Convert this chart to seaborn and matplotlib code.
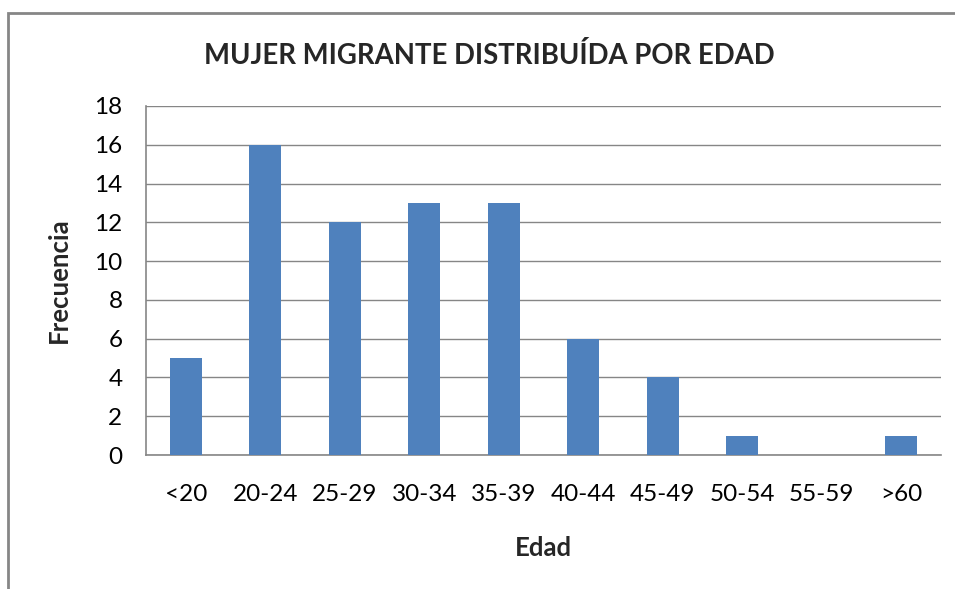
import matplotlib
matplotlib.use('Agg')
import pandas as pd
import seaborn as sns
from matplotlib import pyplot as plt
from matplotlib.patches import Rectangle

# Datos
edades = ['<20', '20-24', '25-29', '30-34', '35-39', '40-44', '45-49', '50-54', '55-59', '>60']
frecuencia = [5, 16, 12, 13, 13, 6, 4, 1, 0, 1]

df = pd.DataFrame({'Edad': edades, 'Frecuencia': frecuencia})

sns.set_style('white')
plt.rcParams['font.family'] = ['Lato', 'DejaVu Sans']

grid_color = '#868686'

fig = plt.figure(figsize=(9.55, 5.89), dpi=100)
ax = fig.add_axes([146 / 955, 1 - 455 / 589, 795 / 955, 349 / 589])

sns.barplot(data=df, x='Edad', y='Frecuencia', order=edades, color='#4F81BD',
            width=0.4, saturation=1, linewidth=0, ax=ax, zorder=3)

ax.set_ylim(0, 18)
ax.set_yticks(range(0, 19, 2))
ax.set_xlim(-0.5, len(edades) - 0.5)
ax.yaxis.grid(True, color=grid_color, linewidth=1)
ax.set_axisbelow(True)
for side in ['top', 'right']:
    ax.spines[side].set_visible(False)
for side in ['left', 'bottom']:
    ax.spines[side].set_color(grid_color)
    ax.spines[side].set_linewidth(1.2)
ax.tick_params(axis='both', length=0, labelsize=17.5, colors='#000000')
ax.tick_params(axis='x', pad=21)
ax.tick_params(axis='y', pad=17)

ax.set_xlabel('Edad', fontsize=18.5, fontweight='bold', labelpad=22)
ax.set_ylabel('Frecuencia', fontsize=18.5, fontweight='bold', labelpad=17)

fig.text(489 / 955, 1 - 55 / 589, 'MUJER MIGRANTE DISTRIBUÍDA POR EDAD',
         ha='center', va='center', fontsize=19.8, fontweight='bold')

# Borde del area del grafico
fig.patches.append(Rectangle((8 / 955, -0.2), 1.2, 0.2 + 1 - 13 / 589,
                             transform=fig.transFigure, fill=False,
                             edgecolor=grid_color, linewidth=2))

fig.savefig('out.png', dpi=100)
